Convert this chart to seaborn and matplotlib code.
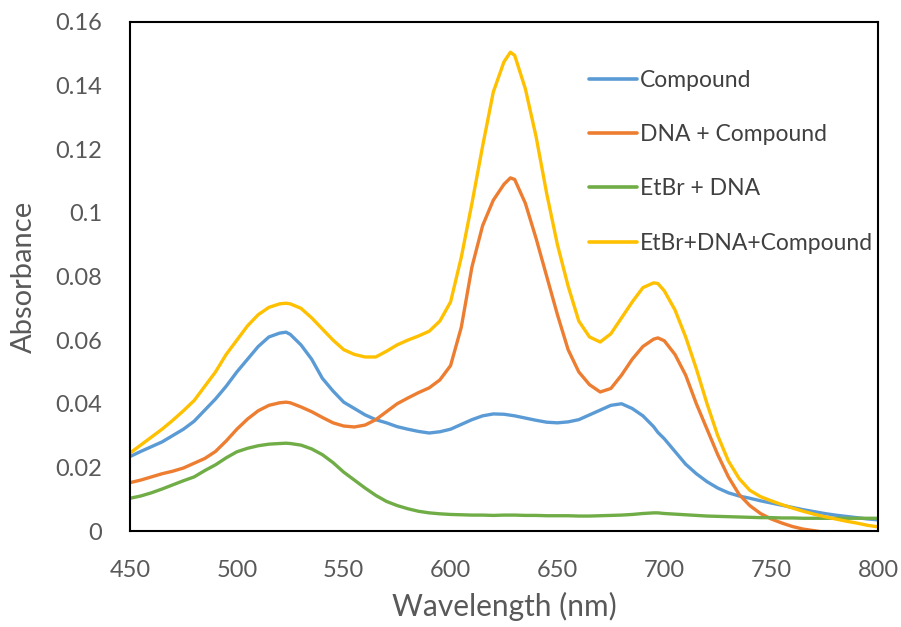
import numpy as np
import pandas as pd
import matplotlib
matplotlib.use("Agg")
import matplotlib.pyplot as plt
from matplotlib.lines import Line2D
import seaborn as sns

wavelengths = [450, 455, 460, 465, 470, 475, 480, 485, 490, 495,
               500, 505, 510, 515, 520, 523, 525, 530, 535, 540, 545,
               550, 555, 560, 565, 570, 575, 580, 585, 590, 595,
               600, 605, 610, 615, 620, 625, 628, 630, 635, 640, 645,
               650, 655, 660, 665, 670, 675, 680, 685, 690, 695, 697,
               700, 705, 710, 715, 720, 725, 730, 735, 740, 745,
               750, 755, 760, 765, 770, 775, 780, 785, 790, 795, 800]

compound = [0.0234, 0.025, 0.0265, 0.028, 0.030, 0.032, 0.0345, 0.038, 0.0415, 0.0455,
            0.050, 0.054, 0.058, 0.061, 0.0622, 0.0625, 0.0618, 0.0585, 0.054, 0.048, 0.044,
            0.0405, 0.0385, 0.0365, 0.035, 0.034, 0.0328, 0.032, 0.0313, 0.0308, 0.0312,
            0.032, 0.0335, 0.035, 0.0362, 0.0368, 0.0367, 0.0364, 0.0362, 0.0355, 0.0348, 0.0342,
            0.034, 0.0343, 0.035, 0.0365, 0.038, 0.0395, 0.040, 0.0385, 0.0362, 0.0328, 0.031,
            0.029, 0.025, 0.021, 0.018, 0.0155, 0.0135, 0.012, 0.011, 0.0103, 0.0095,
            0.0088, 0.0081, 0.0074, 0.0067, 0.0061, 0.0055, 0.005, 0.0046, 0.0042, 0.0038, 0.0035]

dna_compound = [0.0152, 0.016, 0.017, 0.018, 0.0188, 0.0198, 0.0213, 0.0228, 0.025, 0.0283,
                0.032, 0.0352, 0.0378, 0.0395, 0.0403, 0.0405, 0.0403, 0.039, 0.0375, 0.0357, 0.034,
                0.033, 0.0327, 0.0333, 0.035, 0.0375, 0.040, 0.0418, 0.0435, 0.045, 0.0475,
                0.052, 0.064, 0.083, 0.096, 0.104, 0.109, 0.111, 0.1105, 0.103, 0.092, 0.080,
                0.068, 0.057, 0.050, 0.046, 0.0437, 0.0448, 0.049, 0.054, 0.058, 0.0603, 0.0607,
                0.0598, 0.0555, 0.049, 0.040, 0.032, 0.024, 0.017, 0.0115, 0.008, 0.0055,
                0.0038, 0.0025, 0.0014, 0.0006, 0.0001, -0.0004, -0.001, -0.0015, -0.002, -0.0025, -0.003]

etbr_dna = [0.0103, 0.011, 0.012, 0.0132, 0.0145, 0.0158, 0.017, 0.019, 0.0208, 0.023,
            0.0249, 0.026, 0.0268, 0.0273, 0.0275, 0.0276, 0.0275, 0.027, 0.0258, 0.024, 0.0215,
            0.0185, 0.016, 0.0135, 0.0112, 0.0093, 0.008, 0.007, 0.0062, 0.0057, 0.0054,
            0.0052, 0.0051, 0.005, 0.005, 0.0049, 0.005, 0.005, 0.005, 0.0049, 0.0049, 0.0048,
            0.0048, 0.0048, 0.0047, 0.0047, 0.0048, 0.0049, 0.005, 0.0052, 0.0055, 0.0057, 0.0057,
            0.0055, 0.0053, 0.0051, 0.0049, 0.0047, 0.0046, 0.0045, 0.0044, 0.0043, 0.0042,
            0.0042, 0.0041, 0.0041, 0.004, 0.004, 0.004, 0.004, 0.004, 0.004, 0.004, 0.004]

etbr_dna_compound = [0.0245, 0.027, 0.0295, 0.032, 0.0348, 0.0378, 0.041, 0.0455, 0.050, 0.0555,
                     0.060, 0.0645, 0.068, 0.0703, 0.0714, 0.0716, 0.0714, 0.070, 0.067, 0.0635, 0.060,
                     0.057, 0.0555, 0.0547, 0.0547, 0.0565, 0.0585, 0.060, 0.0613, 0.0628, 0.066,
                     0.072, 0.086, 0.103, 0.121, 0.138, 0.1475, 0.1505, 0.1495, 0.139, 0.124, 0.106,
                     0.090, 0.077, 0.066, 0.061, 0.0594, 0.062, 0.067, 0.072, 0.0765, 0.078, 0.0778,
                     0.0755, 0.0695, 0.061, 0.051, 0.040, 0.030, 0.022, 0.0165, 0.0128, 0.0108,
                     0.0095, 0.0083, 0.0072, 0.0062, 0.0053, 0.0045, 0.0038, 0.0031, 0.0025, 0.0018, 0.0013]

series_names = ["Compound", "DNA + Compound", "EtBr + DNA", "EtBr+DNA+Compound"]
series_colors = ["#5B9BD5", "#ED7D31", "#70AD47", "#FFC000"]

x_ticks = [450, 500, 550, 600, 650, 700, 750, 800]
y_ticks = [0, 0.02, 0.04, 0.06, 0.08, 0.1, 0.12, 0.14, 0.16]
y_tick_labels = ["0", "0.02", "0.04", "0.06", "0.08", "0.1", "0.12", "0.14", "0.16"]

frames = []
for name, vals in zip(series_names, [compound, dna_compound, etbr_dna, etbr_dna_compound]):
    assert len(vals) == len(wavelengths)
    frames.append(pd.DataFrame({"Wavelength": wavelengths, "Absorbance": vals, "Series": name}))
df = pd.concat(frames, ignore_index=True)

sns.set_style("white")
plt.rcParams["font.family"] = ["Lato", "DejaVu Sans"]

fig = plt.figure(figsize=(9.01, 6.27), dpi=100)
ax = fig.add_axes([130 / 901, 1 - 531 / 627, 748 / 901, 509 / 627])

sns.lineplot(data=df, x="Wavelength", y="Absorbance", hue="Series",
             hue_order=series_names, palette=dict(zip(series_names, series_colors)),
             linewidth=2.4, ax=ax, legend=False, sort=False)

ax.set_xlim(450, 800)
ax.set_ylim(0, 0.16)
ax.set_xticks(x_ticks)
ax.set_xticklabels([str(t) for t in x_ticks])
ax.set_yticks(y_ticks)
ax.set_yticklabels(y_tick_labels)
ax.tick_params(axis="both", length=0, labelsize=17, labelcolor="#595959")
ax.tick_params(axis="x", pad=21)
ax.tick_params(axis="y", pad=20)
for s in ax.spines.values():
    s.set_visible(True)
    s.set_color("black")
    s.set_linewidth(1.5)

ax.set_xlabel("Wavelength (nm)", fontsize=21.5, color="#595959", labelpad=8)
ax.set_ylabel("Absorbance", fontsize=21, color="#595959", labelpad=13)

handles = [Line2D([0], [0], color=c, linewidth=2.6) for c in series_colors]
leg = ax.legend(handles, series_names, loc="upper left",
                bbox_to_anchor=((589 - 130) / 748, (531 - 70) / 509),
                frameon=False, fontsize=16.5, handlelength=2.1, handletextpad=0.12,
                labelspacing=1.45, borderpad=0, borderaxespad=0)
for t in leg.get_texts():
    t.set_color("#404040")

fig.savefig("out.png", dpi=100)
